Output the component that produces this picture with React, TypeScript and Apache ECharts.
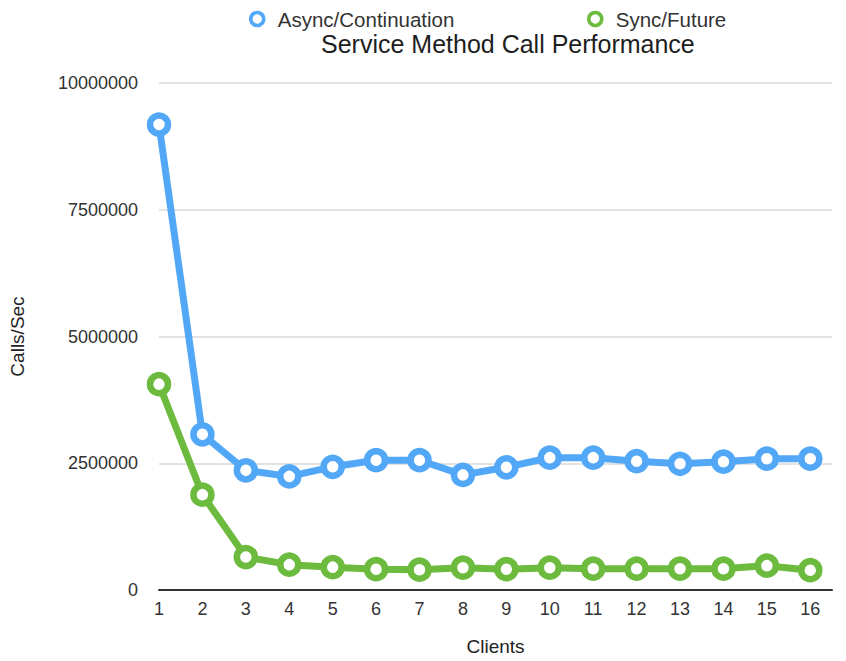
import React, { useEffect, useRef } from "react";
import * as echarts from "echarts";

const clients = [1, 2, 3, 4, 5, 6, 7, 8, 9, 10, 11, 12, 13, 14, 15, 16];
const asyncValues = [9180000, 3070000, 2360000, 2240000, 2430000, 2560000, 2560000, 2270000, 2420000, 2610000, 2610000, 2540000, 2490000, 2530000, 2590000, 2590000];
const syncValues = [4060000, 1880000, 650000, 500000, 450000, 410000, 400000, 440000, 410000, 440000, 420000, 420000, 420000, 420000, 480000, 390000];
const yTicks = [0, 2500000, 5000000, 7500000, 10000000];

const BLUE = "#52a8f7";
const GREEN = "#6cbb3f";
const FONT = "'Liberation Sans', Arial, Helvetica, sans-serif";

export default function App() {
  const ref = useRef<HTMLDivElement>(null);
  useEffect(() => {
    if (!ref.current) return;
    const chart = echarts.init(ref.current, null, { renderer: "svg" });
    const mk = (name: string, vals: number[], color: string) => ({
      name,
      type: "line",
      data: clients.map((c, i) => [c, vals[i]]),
      symbol: "circle",
      symbolSize: 18,
      lineStyle: { color, width: 7 },
      itemStyle: { color: "#ffffff", borderColor: color, borderWidth: 6.5 },
      emphasis: { disabled: true },
    });
    const legendText = { fontSize: 20.5, color: "#333", fontFamily: FONT, padding: [0, 0, 0, 9] };
    chart.setOption({
      animation: false,
      backgroundColor: "#ffffff",
      textStyle: { fontFamily: FONT },
      title: {
        text: "Service Method Call Performance",
        left: 316,
        top: 26.5,
        textStyle: { fontSize: 25, fontWeight: "normal", color: "#1e1e1e", fontFamily: FONT },
      },
      legend: [
        {
          data: [{ name: "Async/Continuation", itemStyle: { color: "#fff", borderColor: BLUE, borderWidth: 3.5 } }],
          left: 244,
          top: 3.5,
          icon: "circle",
          itemWidth: 13,
          itemHeight: 13,
          textStyle: legendText,
        },
        {
          data: [{ name: "Sync/Future", itemStyle: { color: "#fff", borderColor: GREEN, borderWidth: 3.5 } }],
          left: 582,
          top: 3.5,
          icon: "circle",
          itemWidth: 13,
          itemHeight: 13,
          textStyle: legendText,
        },
      ],
      grid: { left: 158, right: 14, top: 83, bottom: 62, containLabel: false },
      xAxis: {
        type: "value",
        min: 1,
        max: 16.5,
        interval: 1,
        name: "Clients",
        nameLocation: "middle",
        nameGap: 47,
        nameTextStyle: { fontSize: 19, color: "#222", fontFamily: FONT },
        axisLine: { show: true, lineStyle: { color: "#333", width: 2 } },
        axisTick: { show: false },
        splitLine: { show: false },
        axisLabel: {
          fontSize: 18,
          color: "#333",
          margin: 10,
          fontFamily: FONT,
          formatter: (v: number) => (Number.isInteger(v) && clients.includes(v) ? String(v) : ""),
        },
      },
      yAxis: {
        type: "value",
        min: yTicks[0],
        max: yTicks[yTicks.length - 1],
        interval: yTicks[1] - yTicks[0],
        name: "Calls/Sec",
        nameLocation: "middle",
        nameGap: 132,
        nameTextStyle: { fontSize: 19, color: "#222", fontFamily: FONT },
        axisLine: { show: false },
        axisTick: { show: false },
        splitLine: { show: true, lineStyle: { color: "#e3e3e3", width: 2 } },
        axisLabel: {
          fontSize: 18,
          color: "#333",
          margin: 21,
          fontFamily: FONT,
          formatter: (v: number) => String(v),
        },
      },
      series: [mk("Async/Continuation", asyncValues, BLUE), mk("Sync/Future", syncValues, GREEN)],
    });
    return () => chart.dispose();
  }, []);
  return <div ref={ref} style={{ width: 846, height: 661, margin: -8 }} />;
}
